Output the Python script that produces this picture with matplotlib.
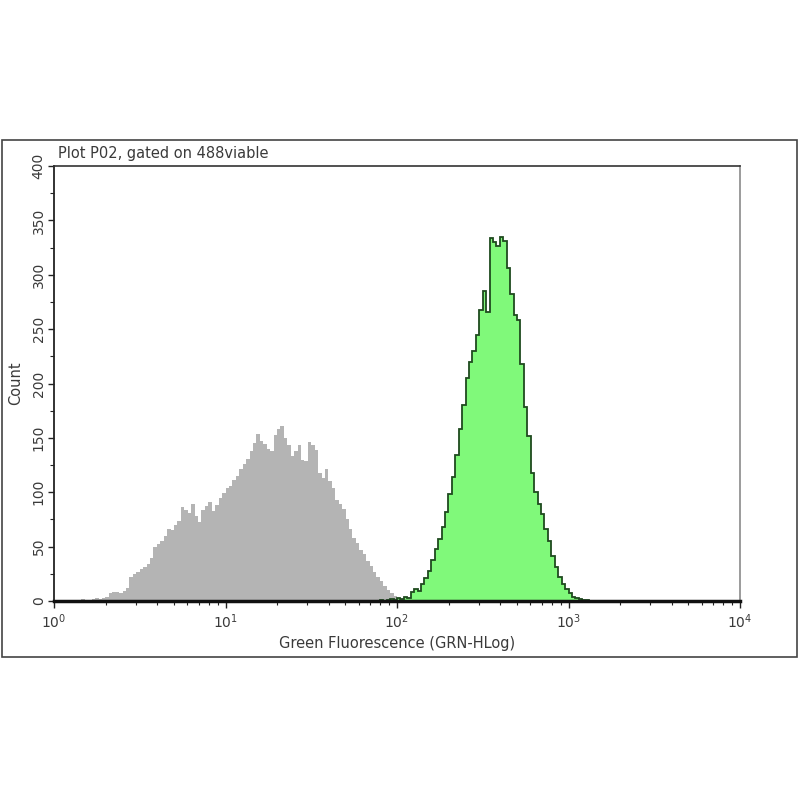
import numpy as np
import matplotlib
matplotlib.use("Agg")
import matplotlib.pyplot as plt
from matplotlib.patches import Rectangle
from matplotlib.ticker import LogLocator, MultipleLocator, FixedFormatter, NullFormatter

# ---- data (counts per log channel bin) ----
bin_step_dec = 0.02          # bin width in decades
gray_start_exp = 0.0         # first bin edge (log10) of grey histogram
gray_counts = [0, 0, 1, 0, 1, 1, 0, 1, 2, 1, 1, 2, 3, 2, 3, 4, 7, 8, 8, 7,
               9, 12, 22, 25, 27, 29, 31, 34, 40, 50, 52, 55, 60, 66, 65, 70, 74, 86, 84, 81,
               89, 78, 73, 84, 87, 91, 83, 88, 95, 99, 104, 106, 111, 115, 121, 126, 131, 138, 145, 154,
               147, 144, 140, 138, 153, 158, 161, 150, 143, 133, 138, 143, 130, 129, 146, 143, 139, 118, 113, 121,
               110, 104, 93, 89, 85, 75, 66, 58, 53, 47, 43, 37, 32, 27, 22, 18, 14, 10, 7, 5,
               3, 2, 1, 1, 0, 0]
green_start_exp = 1.90
green_counts = [1, 0, 1, 2, 1, 3, 2, 4, 3, 8, 11, 9, 16, 21, 28, 38, 48, 57, 68, 82,
                98, 114, 134, 158, 180, 205, 220, 230, 245, 268, 285, 266, 334, 330, 326, 335, 331, 306, 282, 263,
                258, 218, 178, 152, 118, 100, 89, 80, 66, 55, 41, 31, 22, 16, 11, 7, 4, 3, 2, 1,
                1, 0, 0]
x_tick_labels = [r"$10^0$", r"$10^1$", r"$10^2$", r"$10^3$", r"$10^4$"]
y_ticks = [0, 50, 100, 150, 200, 250, 300, 350, 400]
title_text = "Plot P02, gated on 488viable"
x_label = "Green Fluorescence (GRN-HLog)"
y_label = "Count"

plt.rcParams['font.family'] = ['DejaVu Sans']
txt_col = '#3a3a3a'

fig = plt.figure(figsize=(8, 8), dpi=100)
ax = fig.add_axes([0.0675, 0.24875, 0.8575, 0.54375])

gray_edges = 10 ** (gray_start_exp + bin_step_dec * np.arange(len(gray_counts) + 1))
green_edges = 10 ** (green_start_exp + bin_step_dec * np.arange(len(green_counts) + 1))

ax.stairs(gray_counts, gray_edges, fill=True, color='#b4b4b4', lw=0, zorder=2)
ax.stairs(green_counts, green_edges, fill=True, color='#80f97a', lw=0, zorder=3)
ax.stairs(green_counts, green_edges, fill=False, color='#1f4a1f', lw=1.3, zorder=4)

ax.set_xscale('log')
ax.set_xlim(1, 1e4)
ax.set_ylim(0, 400)

ax.xaxis.set_major_locator(LogLocator(base=10, numticks=10))
ax.xaxis.set_minor_locator(LogLocator(base=10, subs=np.arange(2, 10), numticks=20))
ax.set_xticks([1, 10, 100, 1000, 10000])
ax.xaxis.set_major_formatter(FixedFormatter(x_tick_labels))
ax.xaxis.set_minor_formatter(NullFormatter())
ax.set_yticks(y_ticks)
ax.set_yticklabels([str(v) for v in y_ticks])
ax.yaxis.set_minor_locator(MultipleLocator(25))

ax.tick_params(axis='both', which='both', direction='out', colors='#222222',
               labelcolor=txt_col, labelsize=10)
ax.tick_params(axis='x', which='major', length=5, width=1, pad=3)
ax.tick_params(axis='x', which='minor', length=3, width=0.8)
ax.tick_params(axis='y', which='major', length=4, width=1, pad=2, labelrotation=90)
ax.tick_params(axis='y', which='minor', length=3, width=0.8)
for lab in ax.get_yticklabels():
    lab.set_va('center')

ax.spines['left'].set_color('#222222')
ax.spines['left'].set_linewidth(1.3)
ax.spines['bottom'].set_color('#111111')
ax.spines['bottom'].set_linewidth(2.5)
ax.spines['bottom'].set_zorder(6)
ax.spines['top'].set_color('#333333')
ax.spines['top'].set_linewidth(1.2)
ax.spines['right'].set_color('#8a8a8a')
ax.spines['right'].set_linewidth(1.2)

ax.set_xlabel(x_label, fontsize=10.5, color=txt_col, labelpad=4)
ax.set_ylabel(y_label, fontsize=10.5, color=txt_col, labelpad=6)
fig.text(0.072, 0.8085, title_text, fontsize=10.5, color=txt_col, ha='left', va='center')

fig.patches.append(Rectangle((0.003, 0.179), 0.993, 0.646, transform=fig.transFigure,
                             fill=False, edgecolor='#444444', linewidth=1.2))

fig.savefig('out.png', dpi=100, facecolor='white')
